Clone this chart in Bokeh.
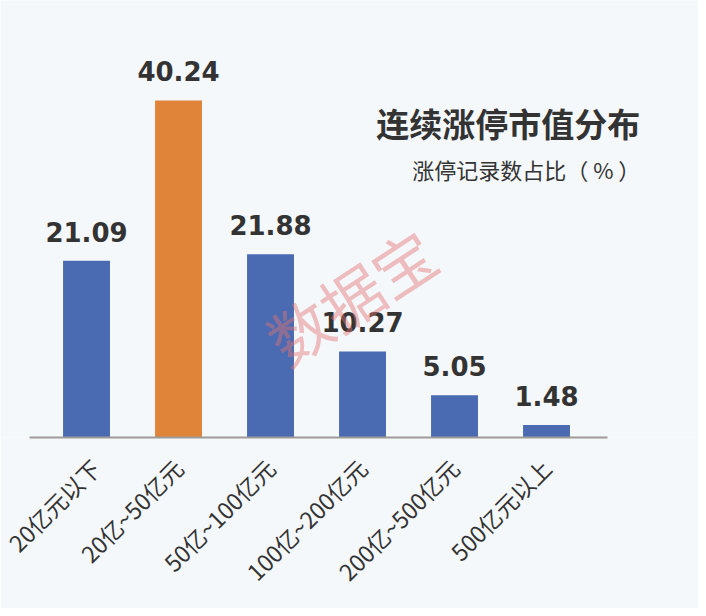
import math
from bokeh.plotting import figure
from bokeh.models import ColumnDataSource, Range1d, FixedTicker, Label
from bokeh.core.properties import value
from bokeh.embed import file_html
from bokeh.resources import INLINE

categories = ["20亿元以下", "20亿~50亿元", "50亿~100亿元", "100亿~200亿元", "200亿~500亿元", "500亿元以上"]
shares = [21.09, 40.24, 21.88, 10.27, 5.05, 1.48]
title_text = "连续涨停市值分布"
subtitle_text = "涨停记录数占比（ % ）"
watermark_text = "数据宝"

BLUE = "#4a6bb1"
ORANGE = "#e0843a"
TEXT = "#333333"
BG = "#f5f8fb"

xs = list(range(len(categories)))
top = max(shares)
colors = [ORANGE if v == top else BLUE for v in shares]
labels = [f"{v:.2f}" for v in shares]
src = ColumnDataSource(dict(x=xs, y=shares, c=colors, t=labels))

p = figure(width=698, height=608, output_backend="svg", toolbar_location=None,
           x_range=Range1d(-0.935, 6.652), y_range=Range1d(0, 52.18))
p.min_border_left = 0
p.min_border_right = 0
p.min_border_top = 0
p.min_border_bottom = 171
p.background_fill_color = BG
p.border_fill_color = BG
p.outline_line_color = None
p.grid.visible = False
p.yaxis.visible = False

p.vbar(x="x", top="y", width=0.51, bottom=0, fill_color="c", line_color=None, source=src)
p.text(x="x", y="y", text="t", source=src, text_align="center", text_baseline="alphabetic",
       y_offset=-29, text_font=value("DejaVu Sans"), text_font_style="bold",
       text_font_size="26px", text_color=TEXT)

ax = p.xaxis[0]
ax.bounds = (-0.62, 5.663)
ax.ticker = FixedTicker(ticks=xs)
ax.major_label_overrides = {i: c for i, c in zip(xs, categories)}
ax.major_label_orientation = math.pi / 4
ax.major_label_text_font = "Noto Sans CJK SC"
ax.major_label_text_font_size = "23px"
ax.major_label_text_color = TEXT
ax.major_label_standoff = 20
ax.major_tick_line_color = None
ax.minor_tick_line_color = None
ax.axis_line_color = "#9e9a99"
ax.axis_line_width = 2

p.add_layout(Label(x=6.02, y=37.6, text=title_text, text_align="right", text_baseline="middle",
                   text_font="Noto Sans CJK SC", text_font_style="bold", text_font_size="33px",
                   text_color=TEXT))
p.add_layout(Label(x=6.02, y=32.1, text=subtitle_text, text_align="right", text_baseline="middle",
                   text_font="Noto Sans CJK SC", text_font_size="22px", text_color=TEXT))
p.add_layout(Label(x=2.87, y=16.96, text=watermark_text, text_align="center", text_baseline="middle",
                   angle=0.58, text_font="Noto Sans CJK SC", text_font_size="62px",
                   text_color="#e57373", text_alpha=0.45))

open("out.html", "w").write(file_html(p, INLINE))
